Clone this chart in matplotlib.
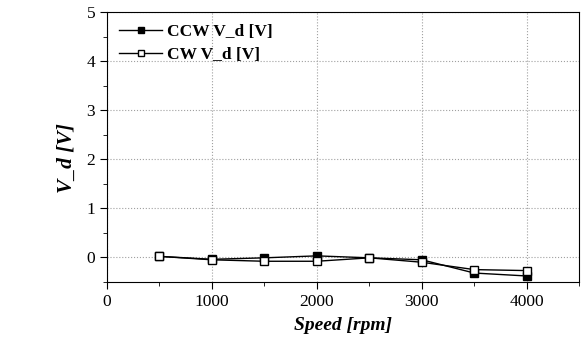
import matplotlib
matplotlib.use('Agg')
from matplotlib import pyplot as plt
from matplotlib.ticker import MultipleLocator

plt.rcParams['font.family'] = ['Liberation Serif', 'DejaVu Serif']

speed = [500, 1000, 1500, 2000, 2500, 3000, 3500, 4000]
ccw_vd = [0.02, -0.04, -0.01, 0.03, -0.01, -0.05, -0.32, -0.38]
cw_vd = [0.02, -0.05, -0.08, -0.08, -0.01, -0.10, -0.25, -0.27]

fig = plt.figure(figsize=(5.81, 3.45), dpi=100)
ax = fig.add_axes([0.184, 0.183, 0.813, 0.782])

ax.plot(speed, ccw_vd, color='black', lw=1, marker='s', ms=5.5,
        mfc='black', mec='black', label='CCW V_d [V]')
ax.plot(speed, cw_vd, color='black', lw=1, marker='s', ms=5.5,
        mfc='white', mec='black', label='CW V_d [V]')

ax.set_xlim(0, 4500)
ax.set_ylim(-0.5, 5)
ax.xaxis.set_major_locator(MultipleLocator(1000))
ax.xaxis.set_minor_locator(MultipleLocator(500))
ax.yaxis.set_major_locator(MultipleLocator(1))
ax.yaxis.set_minor_locator(MultipleLocator(0.5))
ax.tick_params(which='major', direction='out', length=5, labelsize=12.5)
ax.tick_params(which='minor', direction='out', length=3)
ax.grid(True, which='major', color='#a0a0a0', ls=':', lw=0.8)

ax.set_xlabel('Speed [rpm]', fontsize=14, fontweight='bold', style='italic', labelpad=5)
ax.set_ylabel('V_d [V]', fontsize=15.5, fontweight='bold', style='italic')
ax.yaxis.set_label_coords(-0.064, 0.46)

leg = ax.legend(loc='upper left', frameon=False, prop={'weight': 'bold', 'size': 12.5},
                handlelength=2.5, borderaxespad=0.3, labelspacing=0.4, handletextpad=0.25,
                markerscale=0.75)

fig.savefig('out.png', dpi=100)
